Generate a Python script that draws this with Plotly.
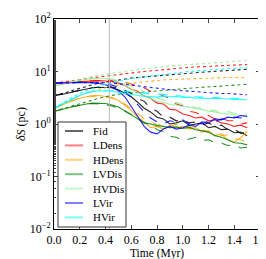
import numpy as np
import plotly.graph_objects as go

time = [round(0.05 * i, 2) for i in range(31)]

models = ["Fid", "LDens", "HDens", "LVDis", "HVDis", "LVir", "HVir"]
colors = {"Fid": "#000000", "LDens": "#ff0000", "HDens": "#ffa500", "LVDis": "#008000",
          "HVDis": "#90ee90", "LVir": "#0000ff", "HVir": "#00ffff"}

fid_solid = [3.5,3.6,3.8,4.1,4.4,4.7,4.9,5.0,5.0,4.9,4.5,3.9,3.3,2.6,2.0,1.7,1.35,1.25,1.0,1.05,1.15,0.95,1.0,1.05,0.85,0.9,0.78,0.8,0.68,0.7,0.6]
fid_dashed = [3.5,3.6,3.8,4.1,4.4,4.7,4.9,5.0,5.1,5.0,4.8,4.4,3.8,3.1,2.7,2.0,1.75,1.35,1.35,1.15,1.2,1.05,1.1,0.95,1.05,0.9,0.95,0.78,0.8,0.66,0.7]
fid_dotted = [3.5,3.7,4.0,4.4,4.8,5.2,5.6,6.0,6.3,6.6,6.9,7.2,7.5,7.7,7.9,8.1,8.3,8.5,8.7,8.9,9.1,9.3,9.5,9.7,9.9,10.1,10.3,10.5,10.7,10.9,11.0]

ldens_solid = [6.0,6.1,6.2,6.3,6.5,6.6,6.7,6.7,6.6,6.4,6.0,5.4,4.6,4.2,3.4,3.1,2.5,2.4,1.9,1.85,1.55,1.45,1.3,1.35,1.15,1.2,1.05,1.0,0.9,0.95,0.85]
ldens_dashed = [6.0,6.1,6.2,6.3,6.5,6.6,6.7,6.8,6.8,6.7,6.5,6.2,5.8,5.2,4.9,4.2,3.9,3.4,3.1,2.4,2.2,1.75,1.65,1.45,1.45,1.25,1.3,1.15,1.15,1.0,1.05]
ldens_dotted = [6.0,6.2,6.4,6.7,7.0,7.3,7.6,7.9,8.2,8.5,8.8,9.1,9.4,9.7,10.0,10.3,10.6,10.9,11.2,11.5,11.8,12.0,12.2,12.4,12.6,12.8,13.0,13.2,13.4,13.5,13.6]

hdens_solid = [2.0,2.2,2.5,2.8,3.1,3.3,3.5,3.5,3.4,3.2,2.8,2.3,1.8,1.35,1.1,0.85,0.9,0.8,0.95,0.85,0.9,0.8,0.85,0.7,0.75,0.6,0.65,0.5,0.45,0.55,0.72]
hdens_dashed = [2.0,2.2,2.5,2.8,3.1,3.3,3.4,3.4,3.3,3.1,2.8,2.4,2.0,1.6,1.25,1.15,0.95,1.0,0.9,1.0,0.85,0.9,0.78,0.8,0.68,0.72,0.6,0.62,0.52,0.5,0.45]
hdens_dotted = [2.0,2.3,2.7,3.1,3.5,3.9,4.3,4.6,4.9,5.2,5.5,5.8,6.0,6.2,6.4,6.6,6.8,6.9,7.0,7.1,7.2,7.3,7.4,7.5,7.6,7.6,7.7,7.7,7.7,7.6,7.6]

lvdis_solid = [1.75,1.85,2.0,2.15,2.3,2.4,2.5,2.5,2.45,2.3,2.1,1.8,1.5,1.25,1.05,1.0,0.93,0.9,0.85,0.88,0.82,0.86,0.78,0.74,0.7,0.6,0.56,0.5,0.44,0.43,0.4]
lvdis_dashed = [1.75,1.85,2.0,2.15,2.3,2.4,2.45,2.4,2.35,2.2,2.0,1.75,1.5,1.3,1.05,0.98,0.78,0.72,0.58,0.56,0.48,0.52,0.56,0.48,0.5,0.44,0.43,0.39,0.4,0.35,0.36]
lvdis_dotted = [1.75,1.9,2.1,2.3,2.5,2.7,2.9,3.1,3.3,3.5,3.7,3.8,3.9,4.0,4.1,4.2,4.3,4.4,4.5,4.6,4.7,4.8,4.9,5.0,5.1,5.2,5.3,5.4,5.5,5.6,5.7]

hvdis_solid = [5.3,5.6,6.0,6.4,6.8,7.1,7.3,7.4,7.3,7.0,6.3,5.4,4.6,4.0,3.4,3.1,2.7,2.6,2.35,2.3,2.15,2.1,1.95,1.9,1.75,1.7,1.58,1.55,1.48,1.45,1.4]
hvdis_dashed = [5.3,5.6,6.0,6.4,6.8,7.1,7.3,7.4,7.3,7.1,6.7,6.1,5.4,4.7,4.0,3.5,3.1,2.9,2.6,2.55,2.35,2.25,2.05,2.0,1.85,1.8,1.7,1.72,1.6,1.62,1.55]
hvdis_dotted = [5.3,5.7,6.2,6.7,7.2,7.7,8.1,8.5,8.9,9.3,9.7,10.1,10.5,10.9,11.3,11.7,12.1,12.4,12.7,13.0,13.3,13.6,13.9,14.2,14.5,14.8,15.1,15.4,15.7,16.0,16.2]

lvir_solid = [6.0,6.0,6.1,6.1,6.2,6.2,6.1,5.9,5.6,5.0,4.3,3.3,2.2,1.4,0.9,0.7,0.65,0.8,0.9,0.8,0.85,0.95,0.9,1.1,1.05,1.25,1.2,1.35,1.3,1.45,1.4]
lvir_dashed = [6.0,6.0,6.1,6.1,6.2,6.2,6.1,6.0,5.8,5.5,5.0,4.2,3.2,2.3,1.7,1.3,1.1,1.0,1.15,1.1,1.2,1.0,1.05,1.0,1.15,1.1,1.25,1.2,1.35,1.3,1.4]
lvir_dotted = [6.0,6.0,6.1,6.1,6.2,6.2,6.2,6.2,6.1,6.0,5.9,5.7,5.5,5.3,5.1,4.9,4.7,4.6,4.5,4.4,4.3,4.2,4.1,4.0,3.9,3.9,3.8,3.8,3.7,3.7,3.6]

hvir_solid = [2.0,2.3,2.7,3.1,3.5,3.9,4.2,4.3,4.3,4.2,4.0,3.8,3.6,3.5,3.4,3.3,3.25,3.4,3.3,3.35,3.2,3.25,3.1,3.15,3.05,3.1,3.0,3.0,2.95,2.9,2.9]
hvir_dashed = [2.0,2.3,2.7,3.1,3.5,3.9,4.2,4.4,4.4,4.4,4.3,4.2,4.1,4.0,3.9,3.8,3.7,3.6,3.5,3.4,3.35,3.3,3.3,3.25,3.2,3.2,3.15,3.1,3.1,3.05,3.0]
hvir_dotted = [2.0,2.4,2.8,3.3,3.8,4.3,4.8,5.3,5.7,6.1,6.5,6.9,7.3,7.6,7.9,8.2,8.5,8.8,9.1,9.4,9.7,10.0,10.3,10.5,10.7,10.9,11.1,11.3,11.5,11.7,11.9]

series = {
    "Fid": (fid_solid, fid_dashed, fid_dotted),
    "LDens": (ldens_solid, ldens_dashed, ldens_dotted),
    "HDens": (hdens_solid, hdens_dashed, hdens_dotted),
    "LVDis": (lvdis_solid, lvdis_dashed, lvdis_dotted),
    "HVDis": (hvdis_solid, hvdis_dashed, hvdis_dotted),
    "LVir": (lvir_solid, lvir_dashed, lvir_dotted),
    "HVir": (hvir_solid, hvir_dashed, hvir_dotted),
}

marker_time = 0.43
xticks = [0.0, 0.2, 0.4, 0.6, 0.8, 1.0, 1.2, 1.4, 1.6]
yticks = [0.01, 0.1, 1, 10, 100]
ytick_text = ["10<sup>−2</sup>", "10<sup>−1</sup>", "10<sup>0</sup>", "10<sup>1</sup>", "10<sup>2</sup>"]

FONT = "Liberation Serif, DejaVu Serif, serif"
W, H = 266, 259
ML, MR, MT, MB = 46, 14, 11, 38
PW, PH = W - ML - MR, H - MT - MB


def px_x(p):
    return (p - ML) / PW


def px_y(p):
    return (H - MB - p) / PH


def rgba(hexc, a):
    h = hexc.lstrip("#")
    return f"rgba({int(h[0:2],16)},{int(h[2:4],16)},{int(h[4:6],16)},{a})"


fig = go.Figure()
for m in models:
    s, d, o = series[m]
    c = colors[m]
    for vals, dash in ((o, "dot"), (d, "dash"), (s, "solid")):
        fig.add_trace(go.Scatter(x=time, y=vals, mode="lines", showlegend=False,
                                 line=dict(color=c, width=1.1, dash=dash), opacity=0.85))

fig.add_vline(x=marker_time, line=dict(color="#bbbbbb", width=1))

# manual legend (matplotlib-like)
shapes = [dict(type="rect", xref="paper", yref="paper",
               x0=px_x(50), x1=px_x(118), y0=px_y(219), y1=px_y(114),
               line=dict(color="#333333", width=1), fillcolor="white", layer="above")]
annotations = []
for i, m in enumerate(models):
    yy = 123 + i * 14.4
    shapes.append(dict(type="line", xref="paper", yref="paper",
                       x0=px_x(57), x1=px_x(75), y0=px_y(yy), y1=px_y(yy),
                       line=dict(color=rgba(colors[m], 0.5) if m != "Fid" else "black",
                                 width=2 if m != "Fid" else 1.2),
                       layer="above"))
    annotations.append(dict(xref="paper", yref="paper", x=px_x(83), y=px_y(yy),
                            xanchor="left", yanchor="middle", text=m, showarrow=False,
                            font=dict(family=FONT, size=11, color="black")))

fig.update_layout(
    width=W, height=H,
    margin=dict(l=ML, r=MR, t=MT, b=MB),
    paper_bgcolor="white", plot_bgcolor="white",
    font=dict(family=FONT, size=12, color="black"),
    showlegend=False,
    shapes=list(fig.layout.shapes) + shapes,
    annotations=annotations,
)
fig.update_xaxes(range=[0, 1.6], tickvals=xticks, ticktext=[f"{v:.1f}" for v in xticks],
                 ticks="inside", ticklen=4, showline=True, linecolor="black", linewidth=1,
                 mirror="allticks", showgrid=False, zeroline=False, automargin=False,
                 tickfont=dict(size=12),
                 title=dict(text="Time (Myr)", standoff=0, font=dict(size=11.5)))
fig.update_yaxes(type="log", range=[-2, 2], tickvals=yticks, ticktext=ytick_text,
                 ticks="inside", ticklen=4, showline=True, linecolor="black", linewidth=1,
                 mirror="allticks", showgrid=False, zeroline=False, automargin=False,
                 tickfont=dict(size=12),
                 minor=dict(ticks="inside", ticklen=2, showgrid=False),
                 title=dict(text="<i>δS</i> (pc)", standoff=1, font=dict(size=12)))

fig.write_html("out.html")
